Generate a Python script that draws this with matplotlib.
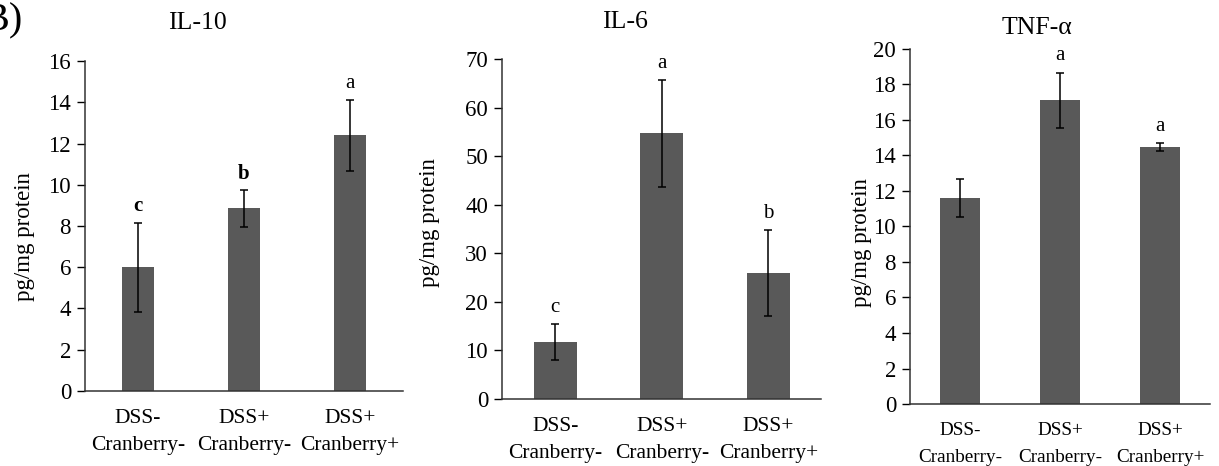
import numpy as np
import matplotlib
matplotlib.use("Agg")
import matplotlib.pyplot as plt

plt.rcParams["font.family"] = ["Liberation Serif", "DejaVu Serif"]

groups = ["DSS-\nCranberry-", "DSS+\nCranberry-", "DSS+\nCranberry+"]

il10_mean = [6.0, 8.85, 12.4]
il10_err = [2.15, 0.88, 1.72]
il10_letters = ["c", "b", "a"]

il6_mean = [11.7, 54.7, 26.0]
il6_err = [3.7, 11.0, 8.85]
il6_letters = ["c", "a", "b"]

tnf_mean = [11.6, 17.1, 14.48]
tnf_err = [1.07, 1.57, 0.23]
tnf_letters = ["", "a", "a"]

bar_color = "#595959"

fig = plt.figure(figsize=(12.19, 4.66), dpi=100)

# axes boxes (left, bottom, width, height) in figure fractions
ax1 = fig.add_axes([0.0697, 0.161, 0.2609, 0.708])
ax2 = fig.add_axes([0.4118, 0.1438, 0.2621, 0.7296])
ax3 = fig.add_axes([0.7465, 0.133, 0.2461, 0.762])

panels = [
    (ax1, "IL-10", il10_mean, il10_err, il10_letters, 16, 2, 0.31, (0.352, 1.115), (-0.157, 0.467), True, 15.5),
    (ax2, "IL-6", il6_mean, il6_err, il6_letters, 70, 10, 0.40, (0.385, 1.109), (-0.194, 0.52), False, 15.5),
    (ax3, "TNF-α", tnf_mean, tnf_err, tnf_letters, 20, 2, 0.40, (0.423, 1.059), (-0.127, 0.456), False, 13.8),
]

for ax, title, mean, err, letters, ymax, step, width, tpos, lpos, bold, xfs in panels:
    x = np.arange(len(groups))
    ax.bar(x, mean, width=width, color=bar_color, zorder=2)
    ax.errorbar(x, mean, yerr=err, fmt="none", ecolor="black", elinewidth=1.1,
                capsize=2.8, capthick=1.1, zorder=3)
    for xi, m, e, lt in zip(x, mean, err, letters):
        if lt:
            ax.annotate(lt, (xi, m + e), textcoords="offset points", xytext=(0, 12),
                        ha="center", va="center", fontsize=15,
                        fontweight="bold" if bold and lt != "a" else "normal")
    ax.set_xlim(-0.5, 2.5)
    ax.set_ylim(0, ymax)
    ax.set_yticks(np.arange(0, ymax + 1, step))
    ax.set_xticks(x)
    ax.set_xticklabels(groups, fontsize=xfs, linespacing=1.55 * 15.5 / xfs)
    ax.tick_params(axis="x", length=0, pad=13)
    ax.tick_params(axis="y", length=6, width=1, labelsize=16.5, pad=4)
    for s in ["top", "right"]:
        ax.spines[s].set_visible(False)
    for s in ["left", "bottom"]:
        ax.spines[s].set_color("#333333")
        ax.spines[s].set_linewidth(1.1)
    ax.set_ylabel("pg/mg protein", fontsize=16.5)
    ax.yaxis.set_label_coords(*lpos)
    ax.text(tpos[0], tpos[1], title, transform=ax.transAxes, ha="center", va="center", fontsize=18.5)

fig.text(-0.014, 0.995, "B)", fontsize=29, ha="left", va="top")

fig.savefig("out.png", dpi=100)
